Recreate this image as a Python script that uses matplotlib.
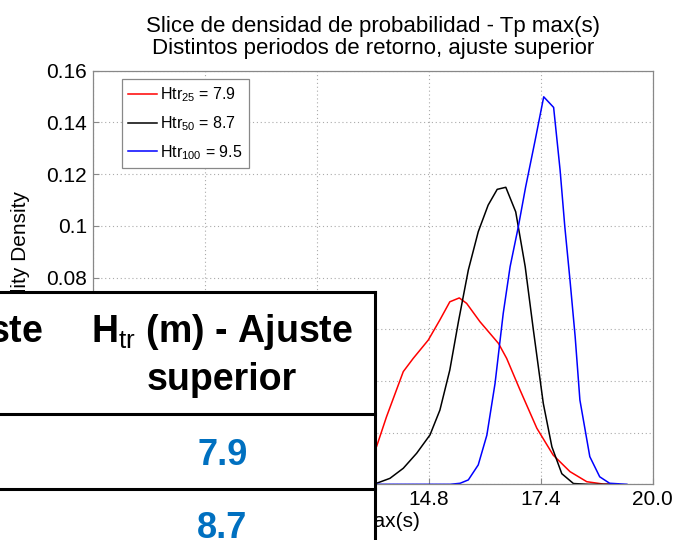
import matplotlib
matplotlib.use("Agg")
import matplotlib.pyplot as plt
from matplotlib.patches import Rectangle

plt.rcParams['font.family'] = ['Liberation Sans', 'DejaVu Sans']
plt.rcParams['mathtext.fontset'] = 'custom'
plt.rcParams['mathtext.rm'] = 'Liberation Sans'
plt.rcParams['mathtext.it'] = 'Liberation Sans'
plt.rcParams['mathtext.bf'] = 'Liberation Sans:bold'

# ---------------- data ----------------
x_red = [11.0, 12.0, 12.6, 13.0, 13.3, 13.59, 13.82, 14.21, 14.44, 14.79, 15.06, 15.29,
         15.51, 15.68, 15.99, 16.42, 16.61, 16.92, 17.31, 17.69, 18.08, 18.47, 18.85, 19.2]
y_red = [0.0, 0.0002, 0.0008, 0.003, 0.007, 0.0146, 0.0261, 0.0436, 0.0487, 0.0558, 0.0636, 0.0706,
         0.0721, 0.0700, 0.0629, 0.0545, 0.0487, 0.0365, 0.0217, 0.0113, 0.0049, 0.0010, 0.0001, 0.0]

x_black = [11.0, 13.0, 13.3, 13.59, 13.90, 14.21, 14.52, 14.83, 15.06, 15.29, 15.49, 15.72,
           15.95, 16.18, 16.39, 16.59, 16.82, 17.04, 17.23, 17.46, 17.66, 17.89, 18.16, 18.5, 19.2]
y_black = [0.0, 0.0, 0.0001, 0.0004, 0.0023, 0.0062, 0.0120, 0.0191, 0.0287, 0.0442, 0.0629, 0.0829,
           0.0977, 0.1080, 0.1141, 0.1149, 0.1054, 0.0842, 0.0597, 0.0313, 0.0145, 0.0041, 0.0003, 0.0, 0.0]

x_blue = [11.0, 15.3, 15.53, 15.72, 15.95, 16.15, 16.34, 16.53, 16.69, 16.88, 17.05, 17.27,
          17.47, 17.70, 17.85, 17.96, 18.08, 18.20, 18.31, 18.54, 18.77, 19.0, 19.4]
y_blue = [0.0, 0.0, 0.0004, 0.0017, 0.0075, 0.0190, 0.0390, 0.0661, 0.0842, 0.0996, 0.1150, 0.1330,
          0.1499, 0.1458, 0.1216, 0.0996, 0.0790, 0.0571, 0.0326, 0.0107, 0.0029, 0.0004, 0.0]

series_labels = [r'Htr$_{25}$ = 7.9', r'Htr$_{50}$ = 8.7', r'Htr$_{100}$ = 9.5']
series_colors = ['#ff0000', '#000000', '#0000ff']

x_ticks = [7.0, 9.6, 12.2, 14.8, 17.4, 20.0]
x_ticklabels = ['7.0', '9.6', '12.2', '14.8', '17.4', '20.0']
y_ticks = [0, 0.02, 0.04, 0.06, 0.08, 0.10, 0.12, 0.14, 0.16]
y_ticklabels = ['0', '0.02', '0.04', '0.06', '0.08', '0.1', '0.12', '0.14', '0.16']

title_text = 'Slice de densidad de probabilidad - Tp max(s)\nDistintos periodos de retorno, ajuste superior'
xlabel_text = 'Tp max(s)'
ylabel_text = 'Probability Density'

table_header_left = 'H$_{tr}$ (m) - Ajuste'
table_header_right = ['H$_{tr}$ (m) - Ajuste', 'superior']
table_values = ['7.9', '8.7']

# ---------------- figure ----------------
W, H = 684, 540
fig = plt.figure(figsize=(W / 100, H / 100), dpi=100)
ax = fig.add_axes([92.7 / W, 1 - 484.3 / H, (652.7 - 92.7) / W, (484.3 - 70.7) / H])

for xs, ys, c, lab in zip([x_red, x_black, x_blue], [y_red, y_black, y_blue], series_colors, series_labels):
    ax.plot(xs, ys, color=c, lw=1.1, label=lab)

ax.set_xlim(7.0, 20.0)
ax.set_ylim(0, 0.16)
ax.set_xticks(x_ticks)
ax.set_xticklabels(x_ticklabels)
ax.set_yticks(y_ticks)
ax.set_yticklabels(y_ticklabels)
ax.tick_params(direction='in', labelsize=15, length=4, color='#888888', pad=4)
ax.grid(True, linestyle=(0, (1, 2.5)), color='#aaaaaa', lw=0.8)
for s in ax.spines.values():
    s.set_color('#888888')
    s.set_linewidth(0.9)

ax.set_title(title_text, fontsize=16, pad=12, linespacing=1.05)
ax.set_xlabel(xlabel_text, fontsize=15, labelpad=2)
ax.set_ylabel(ylabel_text, fontsize=15, labelpad=12)

leg = ax.legend(loc='upper left', bbox_to_anchor=(0.0518, 0.979), borderaxespad=0,
                fontsize=11.5, handlelength=1.8, handletextpad=0.2, labelspacing=0.62,
                borderpad=0.4, fancybox=False, framealpha=1, edgecolor='#888888')
leg.get_frame().set_linewidth(0.9)

# ---------------- overlaid table ----------------
ov = fig.add_axes([0, 0, 1, 1], zorder=10)
ov.set_xlim(0, W)
ov.set_ylim(H, 0)
ov.axis('off')
ov.patch.set_alpha(0)

ov.add_patch(Rectangle((-20, 292), 395.3, 280, facecolor='white', edgecolor='none'))
lw_tbl = 2.2
ov.plot([-20, 375.3], [292, 292], color='black', lw=lw_tbl, solid_capstyle='projecting')
ov.plot([375.3, 375.3], [292, 560], color='black', lw=lw_tbl, solid_capstyle='projecting')
ov.plot([-20, 375.3], [414.3, 414.3], color='black', lw=lw_tbl)
ov.plot([-20, 375.3], [488.8, 488.8], color='black', lw=lw_tbl)

ov.text(-88, 341.5, table_header_left, fontsize=27, fontweight='bold', ha='center', va='baseline')
ov.text(222, 341.5, table_header_right[0], fontsize=27, fontweight='bold', ha='center', va='baseline')
ov.text(222, 390, table_header_right[1], fontsize=27, fontweight='bold', ha='center', va='baseline')
for v, yb in zip(table_values, [465, 538]):
    ov.text(222.5, yb, v, fontsize=26, fontweight='bold', ha='center', va='baseline', color='#0070C0')

fig.savefig('out.png', dpi=100)
